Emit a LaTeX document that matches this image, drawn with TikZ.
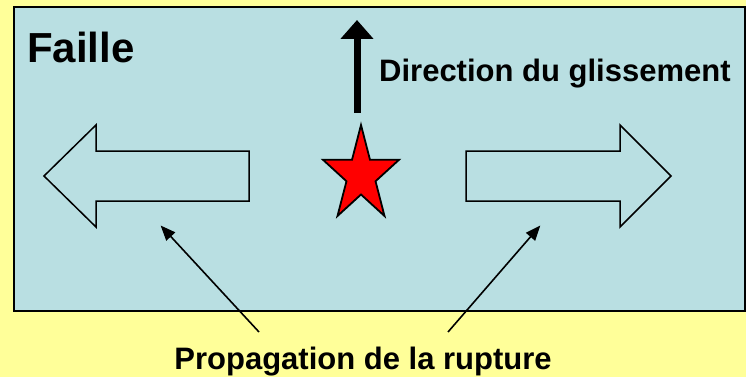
\documentclass[tikz,border=0pt]{standalone}
\usepackage{fontspec}
\setmainfont{Liberation Sans}
\usetikzlibrary{arrows.meta}
\definecolor{bgyellow}{RGB}{255,255,153}
\definecolor{faultblue}{RGB}{185,223,226}
\tikzset{
  lbl/.style={font=\bfseries, inner sep=0pt, anchor=base west},
  blockarrow/.style={draw=black, line width=1.5pt, line join=miter},
  pointer/.style={draw=black, line width=1.6pt, -{Triangle[length=15pt,width=12pt]}, shorten >=-2pt},
}
\begin{document}
\begin{tikzpicture}[x=1pt,y=-1pt]
\useasboundingbox (0,0) rectangle (746,377);
\fill[bgyellow] (0,0) rectangle (746,377);
% fault plane
\draw[fill=faultblue, line width=2pt] (13.5,7.5) rectangle (745,311);
% labels
\node[lbl, font=\fontsize{42}{48}\selectfont\bfseries] (faille) at (27,63) {Faille};
\node[lbl, font=\fontsize{31}{36}\selectfont\bfseries] (dir) at (379,82) {Direction du glissement};
\node[lbl, anchor=base, font=\fontsize{31}{36}\selectfont\bfseries] (prop) at (363,369) {Propagation de la rupture};
% slip direction arrow
\coordinate (upbot) at (357,113);
\coordinate (uptop) at (357,20);
\draw[line width=7pt, -{Triangle[length=19pt,width=32pt]}] (upbot) -- (uptop);
% star (hypocentre)
\draw[fill=red, line width=1.8pt, line join=miter]
  (361,125) -- (352.02,159.76) -- (322.96,159.76) -- (346.47,181.24) -- (337.49,215.99)
  -- (361,194.51) -- (384.51,215.99) -- (375.53,181.24) -- (399.04,159.76) -- (369.98,159.76) -- cycle;
% left block arrow
\draw[blockarrow] (44,176) -- (96,125) -- (96,151) -- (249,151) -- (249,201) -- (96,201) -- (96,227) -- cycle;
% right block arrow
\draw[blockarrow] (671,176) -- (620,125) -- (620,151) -- (466,151) -- (466,201) -- (620,201) -- (620,227) -- cycle;
% pointers
\coordinate (ltail) at (259,332);
\coordinate (ltip) at (162,227);
\coordinate (rtail) at (448,332);
\coordinate (rtip) at (539,227);
\draw[pointer] (ltail) -- (ltip);
\draw[pointer] (rtail) -- (rtip);
\end{tikzpicture}
\end{document}
